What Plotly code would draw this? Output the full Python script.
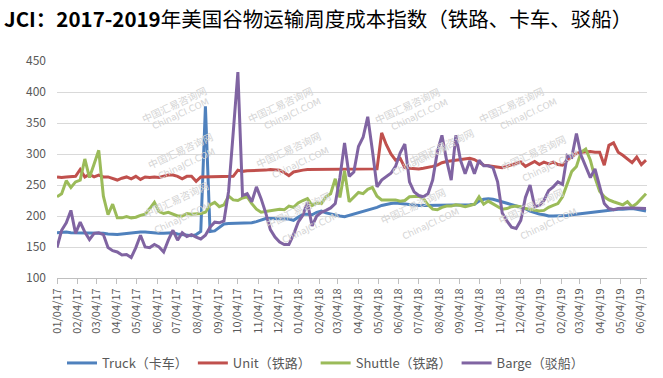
import pandas as pd
import plotly.graph_objects as go

# weekly observations starting 2017-01-04 (128 weeks)
START_DATE = "2017-01-04"
N_WEEKS = 128

TRUCK = [173,174,174,173,173,173,173,172,172,172,
         172,171,170,170,171,172,172,173,174,174,
         173,173,172,172,172,173,171,170,169,168,
         170,175,377,175,176,182,187,188,188,188,
         188,188,189,191,194,196,196,196,196,196,
         195,193,198,203,203,202,206,208,205,203,
         201,200,199,201,203,206,208,210,212,214,
         217,219,220,221,220,219,218,217,217,217,
         217,217,217,217,217,217,217,217,218,218,
         219,224,227,228,227,225,223,221,219,217,
         215,212,208,205,203,202,200,200,200,200,
         201,202,203,204,205,206,207,208,208,209,
         210,211,211,212,212,211,210,208]

UNIT = [263,262,263,264,264,275,263,267,263,266,
        263,263,260,258,261,263,260,264,259,263,
        262,263,262,264,266,266,264,260,264,264,
        256,263,263,264,263,264,263,264,264,274,
        272,273,273,274,274,274,275,274,274,270,
        265,271,273,274,275,275,275,275,275,275,
        275,275,276,276,276,276,276,276,276,276,
        334,315,300,290,293,278,277,276,276,277,
        278,280,282,286,288,289,289,290,291,293,
        291,286,282,281,280,279,278,280,282,284,
        287,280,284,288,283,287,284,287,283,282,
        290,296,301,303,304,304,303,303,282,314,
        318,303,298,292,286,295,283,290]

SHUTTLE = [231,236,257,246,255,258,292,262,284,306,
           232,202,219,197,197,199,197,198,201,203,
           212,222,207,204,206,203,200,200,204,203,
           203,204,206,218,222,215,218,232,226,225,
           229,231,220,211,206,207,208,209,211,210,
           216,214,221,225,228,217,221,220,231,236,
           260,230,273,223,231,238,236,243,246,232,
           226,226,227,226,224,225,231,231,232,228,
           218,211,210,214,216,216,218,217,215,217,
           219,231,219,224,220,215,211,212,215,216,
           215,212,211,209,208,209,214,217,220,231,
           250,272,280,303,308,290,262,240,231,226,
           223,221,218,223,215,220,228,236]

BARGE = [149,177,189,209,172,190,174,162,172,173,
         170,149,144,142,137,138,133,149,169,150,
         149,154,150,142,161,177,161,173,167,170,
         166,163,169,182,190,189,192,240,335,432,
         233,236,223,247,228,205,178,166,158,154,
         154,170,190,201,222,184,200,206,209,213,
         220,262,318,264,271,312,327,360,306,247,
         258,264,269,280,302,316,255,239,233,231,
         236,258,303,330,290,258,330,290,268,289,
         268,290,281,281,278,255,205,192,182,180,
         193,230,250,215,217,225,241,247,255,251,
         298,295,333,298,279,262,276,247,220,212,
         210,212,213,213,213,213,213,212]

SERIES_NAMES = ["Truck（卡车）", "Unit（铁路）", "Shuttle（铁路）", "Barge（驳船）"]
SERIES_COLORS = ["#4F81BD", "#C0504D", "#9BBB59", "#8064A2"]

TICK_LABELS = ["01/04/17", "02/04/17", "03/04/17", "04/04/17", "05/04/17", "06/04/17",
               "07/04/17", "08/04/17", "09/04/17", "10/04/17", "11/04/17", "12/04/17",
               "01/04/18", "02/04/18", "03/04/18", "04/04/18", "05/04/18", "06/04/18",
               "07/04/18", "08/04/18", "09/04/18", "10/04/18", "11/04/18", "12/04/18",
               "01/04/19", "02/04/19", "03/04/19", "04/04/19", "05/04/19", "06/04/19"]

Y_TICKS = [100, 150, 200, 250, 300, 350, 400, 450]

TITLE = "<b>JCI：2017-2019</b>年美国谷物运输周度成本指数（铁路、卡车、驳船）"

dates = pd.date_range(START_DATE, periods=N_WEEKS, freq="7D")
tick_vals = pd.to_datetime(TICK_LABELS, format="%m/%d/%y")

FONT = "Noto Sans CJK SC"

fig = go.Figure()
for name, color, vals in zip(SERIES_NAMES, SERIES_COLORS, [TRUCK, UNIT, SHUTTLE, BARGE]):
    fig.add_trace(go.Scatter(x=dates, y=vals, name=name, mode="lines",
                             line=dict(color=color, width=3)))

# plot area in pixels
L, R, T, B = 57, 647, 61, 278
W, H = 663, 378

def px(x):
    return (x - L) / (R - L)

def py(y):
    return (B - y) / (B - T)

annotations = []
WATERMARKS = [(140, 86), (146, 156), (142, 230), (284, 86), (292, 155), (302, 240),
              (411, 87), (445, 152), (455, 236), (553, 86), (575, 158), (573, 236)]
for cx, cy in WATERMARKS:
    annotations.append(dict(x=px(cx - 4), y=py(cy - 6), xref="paper", yref="paper",
                            text="中国汇易咨询网", showarrow=False, textangle=-25,
                            font=dict(family=FONT, size=10, color="#d4d4d4")))
    annotations.append(dict(x=px(cx + 8), y=py(cy + 8), xref="paper", yref="paper",
                            text="ChinaJCI.COM", showarrow=False, textangle=-25,
                            font=dict(family="DejaVu Sans", size=9, color="#d4d4d4")))

fig.update_layout(
    width=W, height=H,
    margin=dict(l=L, r=W - R, t=T, b=H - B, autoexpand=False),
    paper_bgcolor="white", plot_bgcolor="white",
    font=dict(family=FONT, color="#595959"),
    title=dict(text=TITLE, x=4 / W, xanchor="left", y=1 - 20 / H, yanchor="middle",
               font=dict(family=FONT, size=20.5, color="#000000")),
    showlegend=True,
    legend=dict(orientation="h", xref="container", yref="container",
                x=62 / W, xanchor="left", y=1 - 363 / H, yanchor="middle",
                font=dict(family=FONT, size=13, color="#595959"),
                bgcolor="rgba(0,0,0,0)", itemwidth=30, tracegroupgap=0),
    annotations=annotations,
)

fig.update_xaxes(
    type="date",
    range=[pd.Timestamp(START_DATE), pd.Timestamp("2019-06-13 12:00")],
    tickmode="array", tickvals=tick_vals, ticktext=TICK_LABELS,
    tickangle=-90, tickfont=dict(family=FONT, size=11, color="#595959"),
    ticks="outside", ticklen=5, tickcolor="#bfbfbf",
    showgrid=False, showline=True, linecolor="#bfbfbf", linewidth=1,
    zeroline=False, automargin=False,
)
fig.update_yaxes(
    range=[100, 450], tickmode="array", tickvals=Y_TICKS,
    tickfont=dict(family=FONT, size=12, color="#595959"),
    showgrid=True, gridcolor="#d9d9d9", gridwidth=1,
    showline=False, zeroline=False, ticks="", ticklabelstandoff=10, automargin=False,
)

fig.write_html("out.html", config={"displayModeBar": False},
               post_script="document.body.style.margin='0';document.body.style.padding='0';")
